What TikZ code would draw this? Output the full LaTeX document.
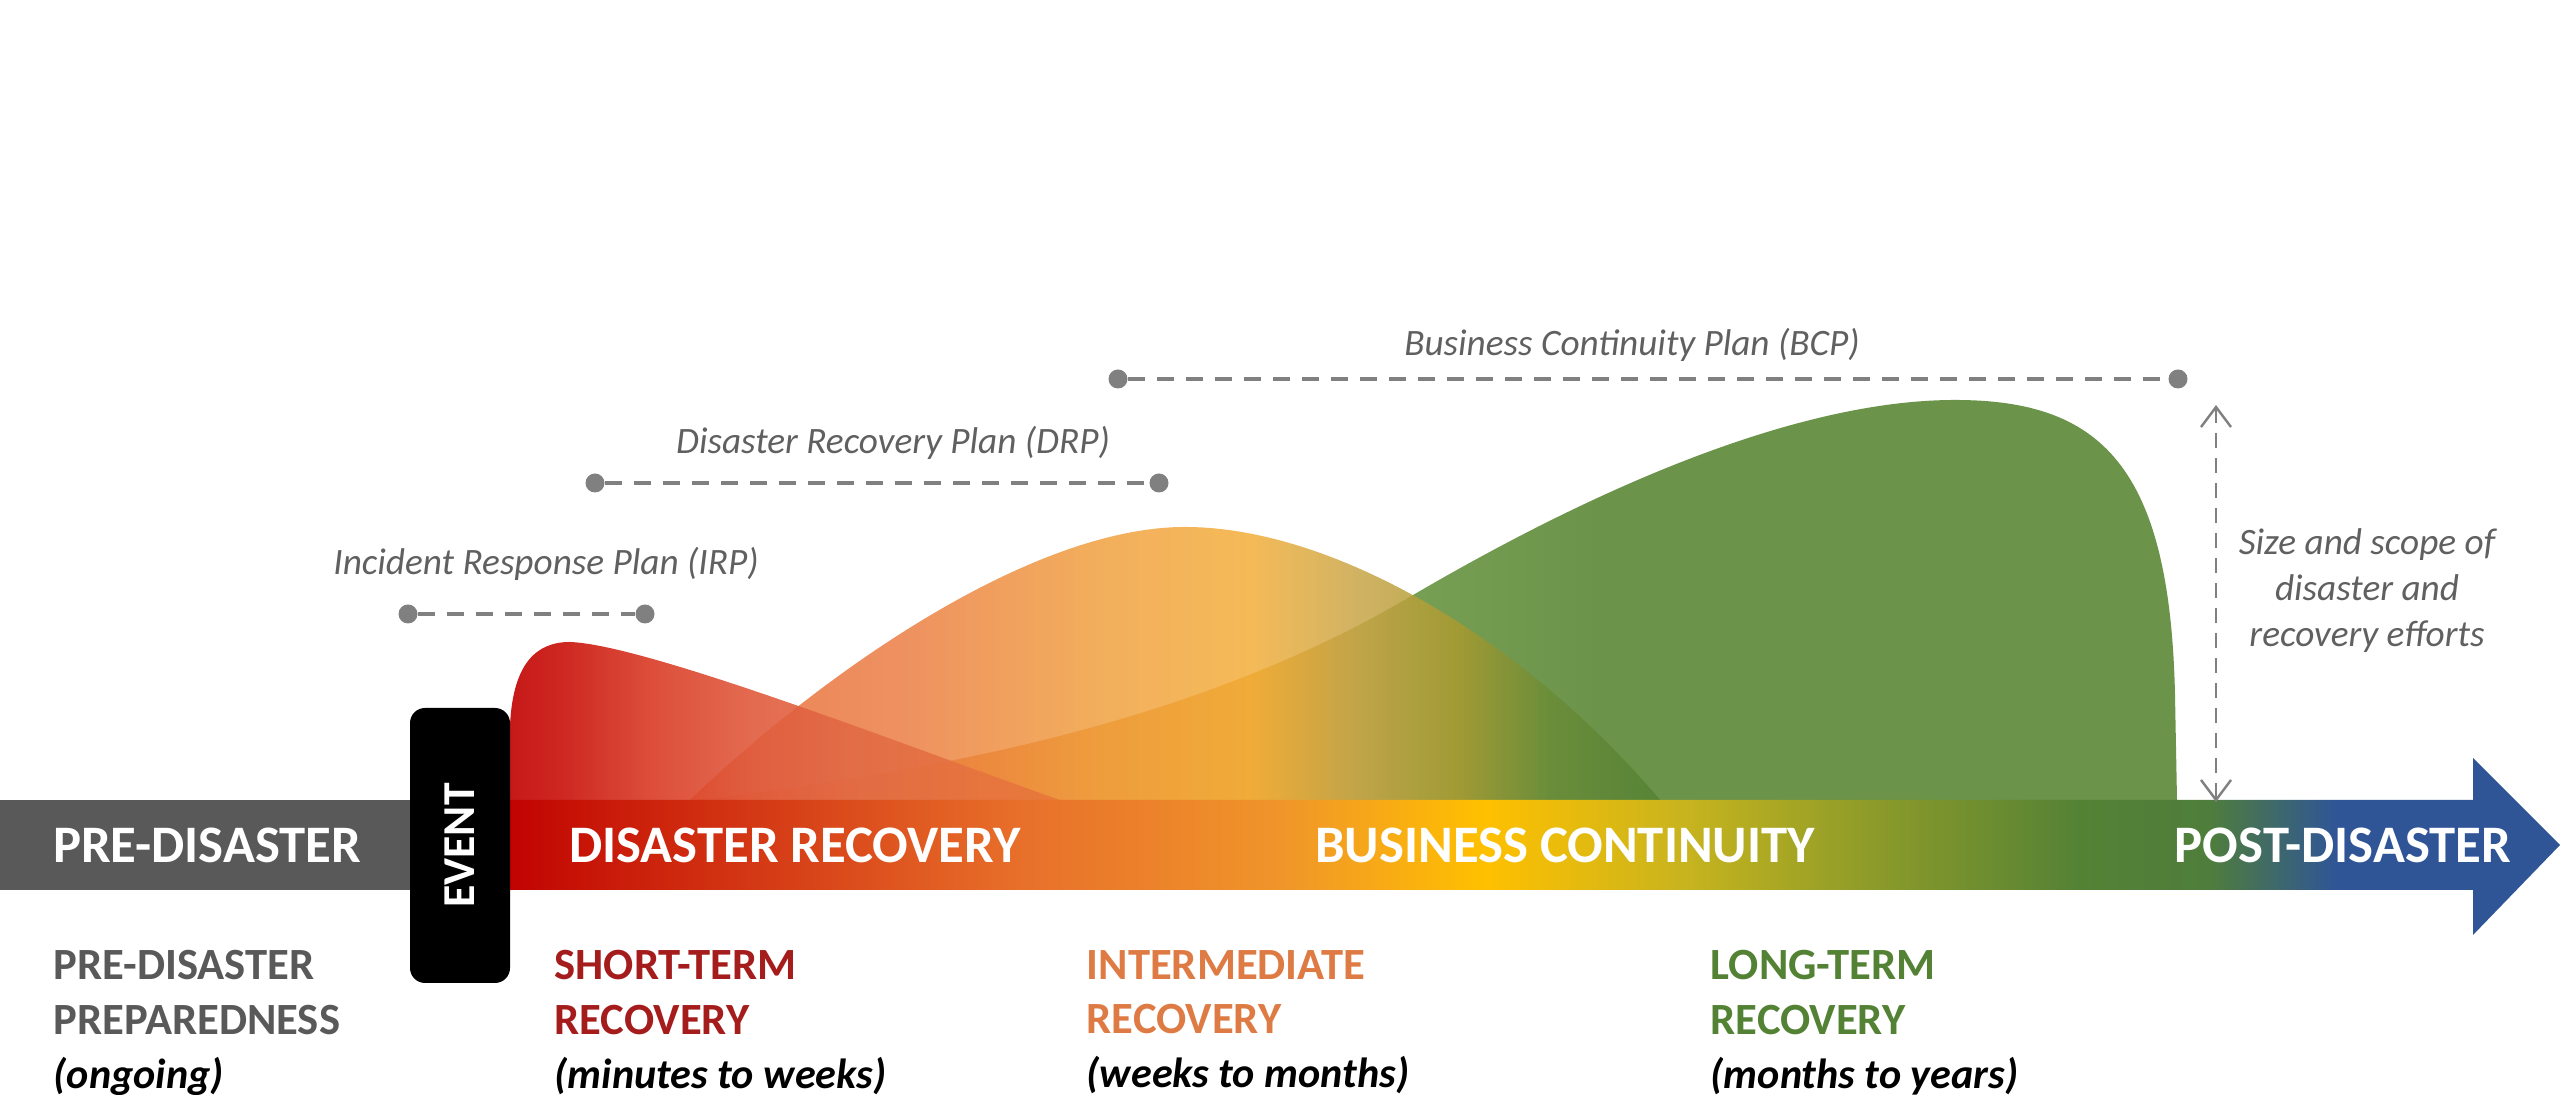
\documentclass[tikz,border=0pt]{standalone}
\usepackage{xcolor}
\usepackage{fontspec}
\setmainfont{Carlito}
\usepackage{tikz}
\definecolor{bargray}{RGB}{89, 89, 89}
\definecolor{plangray}{RGB}{96, 96, 96}
\definecolor{dotgray}{RGB}{128, 128, 128}
\definecolor{shortred}{RGB}{165, 28, 28}
\definecolor{midorange}{RGB}{222, 123, 68}
\definecolor{longgreen}{RGB}{84, 130, 53}
% timeline colours
\definecolor{bar0}{HTML}{C00000}
\definecolor{bar1}{HTML}{C81808}
\definecolor{bar2}{HTML}{E8702A}
\definecolor{bar3}{HTML}{F0962A}
\definecolor{bar4}{HTML}{FFC000}
\definecolor{bar5}{HTML}{C8B41E}
\definecolor{bar6}{HTML}{8A9A2A}
\definecolor{bar7}{HTML}{548235}
\definecolor{bar8}{HTML}{4F7D3C}
\definecolor{bar9}{HTML}{2F5597}
% wave colours
\definecolor{irp0}{HTML}{C00000}
\definecolor{irp1}{HTML}{C80F08}
\definecolor{irp2}{HTML}{D83A25}
\definecolor{irp3}{HTML}{E05A3C}
\definecolor{irp4}{HTML}{E26A45}
\definecolor{irp5}{HTML}{E8783A}
\definecolor{drp0}{HTML}{E86A3A}
\definecolor{drp1}{HTML}{EB7D44}
\definecolor{drp2}{HTML}{F0A040}
\definecolor{drp3}{HTML}{F2AE3A}
\definecolor{drp4}{HTML}{C8A548}
\definecolor{drp5}{HTML}{A89A30}
\definecolor{drp6}{HTML}{6A8C38}
\definecolor{drp7}{HTML}{548235}
\definecolor{bcp0}{HTML}{E8742E}
\definecolor{bcp1}{HTML}{E8802C}
\definecolor{bcp2}{HTML}{E8A030}
\definecolor{bcp3}{HTML}{78A055}
\definecolor{bcp4}{HTML}{6B9349}
\usetikzlibrary{arrows.meta, positioning, calc}

\pgfdeclarehorizontalshading{barshade}{100bp}{color(0bp)=(bar0); color(25bp)=(bar0); color(27.4bp)=(bar1); color(37.7bp)=(bar2); color(44.1bp)=(bar3); color(48.9bp)=(bar4); color(53.7bp)=(bar5); color(58.5bp)=(bar6); color(63.3bp)=(bar7); color(66.5bp)=(bar8); color(69.6bp)=(bar9); color(100bp)=(bar9)}
\pgfdeclarehorizontalshading{irpshade}{100bp}{color(0bp)=(irp0); color(25bp)=(irp0); color(29.5bp)=(irp1); color(37.7bp)=(irp2); color(46.8bp)=(irp3); color(55.9bp)=(irp4); color(75bp)=(irp5); color(100bp)=(irp5)}
\pgfdeclarehorizontalshading{drpshade}{100bp}{color(0bp)=(drp0); color(25bp)=(drp0); color(35.8bp)=(drp1); color(46.1bp)=(drp2); color(53.9bp)=(drp3); color(59.5bp)=(drp4); color(64.7bp)=(drp5); color(69.3bp)=(drp6); color(75bp)=(drp7); color(100bp)=(drp7)}
\pgfdeclarehorizontalshading{bcpshade}{100bp}{color(0bp)=(bcp0); color(25bp)=(bcp0); color(35.2bp)=(bcp1); color(43.6bp)=(bcp2); color(48.7bp)=(bcp3); color(55.5bp)=(bcp4); color(100bp)=(bcp4)}

\newcommand{\spanline}[1]{\textcolor{black}{\fontsize{12}{15.4}\selectfont\textit{#1}}}

\begin{document}
\begin{tikzpicture}[
    barlabel/.style={text=white, font=\fontsize{15}{18}\selectfont\bfseries, inner sep=0},
    phase/.style={anchor=north west, align=left, inner sep=0, font=\fontsize{12.7}{15.4}\selectfont\bfseries},
    planlabel/.style={text=plangray, font=\fontsize{10.6}{13}\selectfont\itshape, inner sep=0},
    plandot/.style={circle, fill=dotgray, minimum size=0.19cm, inner sep=0},
    planline/.style={draw=dotgray, line width=1.1pt, dash pattern=on 0.17cm off 0.12cm},
]
    \useasboundingbox (0,0) rectangle (25.6,10.95);

    % Waves
    \shade[shading=bcpshade] (7.0,2.95) .. controls (9.0,3.2) and (11.78,3.62) .. (14.08,4.97)
        .. controls (16.0,6.1) and (18.0,6.95) .. (19.55,6.95)
        .. controls (21.0,6.95) and (21.7,6.3) .. (21.75,4.0) -- (21.77,2.95) -- cycle;
    \shade[shading=drpshade, fill opacity=0.85] (6.9,2.95) .. controls (8.2,4.2) and (10.3,5.68) .. (11.85,5.68)
        .. controls (13.3,5.68) and (15.2,4.6) .. (16.6,2.95) -- cycle;
    \shade[shading=irpshade, fill opacity=0.9] (5.1,2.95) -- (5.1,3.7) .. controls (5.13,4.3) and (5.35,4.53) .. (5.70,4.53)
        .. controls (6.5,4.5) and (9.3,3.4) .. (10.6,2.95) -- cycle;

    % Timeline
    \fill[bargray] (0,2.05) rectangle (4.2,2.95);
    \shade[shading=barshade] (5.0,2.05) -- (24.73,2.05) -- (24.73,1.60) -- (25.6,2.50)
        -- (24.73,3.37) -- (24.73,2.95) -- (5.0,2.95) -- cycle;
    \node[rotate=90, fill=black, rounded corners=0.15cm, minimum width=2.75cm, minimum height=1.0cm,
        text=white, font=\fontsize{13}{15}\selectfont\bfseries] (event) at (4.60,2.495) {EVENT};

    \node[barlabel] (pre) at (2.07,2.50) {PRE-DISASTER};
    \node[barlabel] (dr) at (7.95,2.50) {DISASTER RECOVERY};
    \node[barlabel] (bc) at (15.65,2.50) {BUSINESS CONTINUITY};
    \node[barlabel] (post) at (23.43,2.50) {POST-DISASTER};

    % Phases
    \node[phase, text=bargray] (prep) at (0.53,1.45) {PRE-DISASTER\\PREPAREDNESS\\\spanline{(ongoing)}};
    \node[phase, text=shortred] (short) at (5.54,1.45) {SHORT-TERM\\RECOVERY\\\spanline{(minutes to weeks)}};
    \node[phase, text=midorange] (mid) at (10.86,1.45) {INTERMEDIATE\\RECOVERY\\\spanline{(weeks to months)}};
    \node[phase, text=longgreen] (long) at (17.10,1.45) {LONG-TERM\\RECOVERY\\\spanline{(months to years)}};

    % Plans
    \node[plandot] (irpL) at (4.08,4.81) {};
    \node[plandot] (irpR) at (6.45,4.81) {};
    \draw[planline] (irpL) -- (irpR);
    \node[planlabel] (irp) at (5.46,5.31) {Incident Response Plan (IRP)};

    \node[plandot] (drpL) at (5.95,6.12) {};
    \node[plandot] (drpR) at (11.59,6.12) {};
    \draw[planline] (drpL) -- (drpR);
    \node[planlabel] (drp) at (8.93,6.52) {Disaster Recovery Plan (DRP)};

    \node[plandot] (bcpL) at (11.18,7.16) {};
    \node[plandot] (bcpR) at (21.78,7.16) {};
    \draw[planline] (bcpL) -- (bcpR);
    \node[planlabel] (bcp) at (16.32,7.50) {Business Continuity Plan (BCP)};

    % Size and scope
    \coordinate (sizetop) at (22.16,6.90);
    \coordinate (sizebot) at (22.16,2.93);
    \draw[draw=dotgray, line width=0.7pt, dash pattern=on 0.15cm off 0.1cm,
        {Straight Barb[length=0.2cm, width=0.3cm]}-{Straight Barb[length=0.2cm, width=0.3cm]}] (sizetop) -- (sizebot);
    \node[planlabel, align=center, font=\fontsize{10.6}{13.1}\selectfont\itshape] (size) at (23.67,5.04)
        {Size and scope of\\disaster and\\recovery efforts};

\end{tikzpicture}
\end{document}
